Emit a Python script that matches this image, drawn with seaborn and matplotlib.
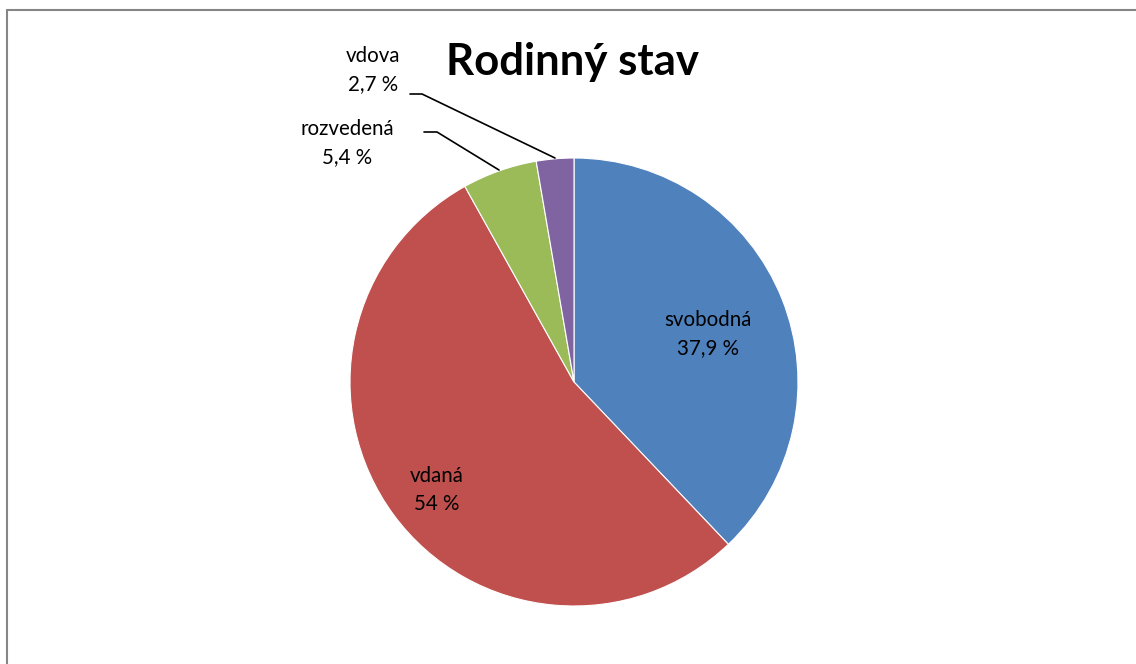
import matplotlib.pyplot as plt
import seaborn as sns
from matplotlib.lines import Line2D

# data
categories = ["svobodná", "vdaná", "rozvedená", "vdova"]
values = [37.9, 54.0, 5.4, 2.7]
value_labels = ["37,9 %", "54 %", "5,4 %", "2,7 %"]
colors = ["#4F81BD", "#C0504D", "#9BBB59", "#8064A2"]

sns.set_theme(style="white")
plt.rcParams['font.family'] = ['Lato', 'DejaVu Sans']

W, H = 1136, 664
fig = plt.figure(figsize=(W / 100, H / 100), dpi=100)
fig.patch.set_facecolor("white")

# pie placement in pixels
cx, cy, r = 574, 382, 224
ax = fig.add_axes([(cx - r) / W, (H - cy - r) / H, 2 * r / W, 2 * r / H])

wedges, _ = ax.pie(values, colors=colors, startangle=90, counterclock=False,
                   radius=1, wedgeprops=dict(edgecolor="white", linewidth=0.8))
ax.set_xlim(-1, 1)
ax.set_ylim(-1, 1)
ax.set_aspect("equal")
ax.axis("off")


def px(x, y):
    return (x - cx) / r, (cy - y) / r


lab_pos = [(708, 334), (437, 490), (347, 143), (373, 70)]
for name, vl, (x, y) in zip(categories, value_labels, lab_pos):
    ax.text(*px(x, y), f"{name}\n{vl}", ha="center", va="center",
            fontsize=14.8, color="black", linespacing=1.45, clip_on=False)

# leader lines for small slices
leaders = [
    [(424, 132), (437, 132), (499, 170)],
    [(410, 94), (422, 94), (555, 158)],
]
for pts in leaders:
    xs, ys = zip(*[px(x, y) for x, y in pts])
    ax.plot(xs, ys, color="black", linewidth=1.2, clip_on=False)

fig.text(572 / W, 1 - 62 / H, "Rodinný stav", ha="center", va="center",
         fontsize=31.5, fontweight="bold", color="black")

# chart area border (only top and left edges visible)
border = dict(color="#868686", linewidth=1.5, transform=fig.transFigure)
fig.lines.append(Line2D([6.5 / W, 1.0], [1 - 9.5 / H, 1 - 9.5 / H], **border))
fig.lines.append(Line2D([6.5 / W, 6.5 / W], [0.0, 1 - 9.5 / H], **border))

fig.savefig("out.png", dpi=100)
